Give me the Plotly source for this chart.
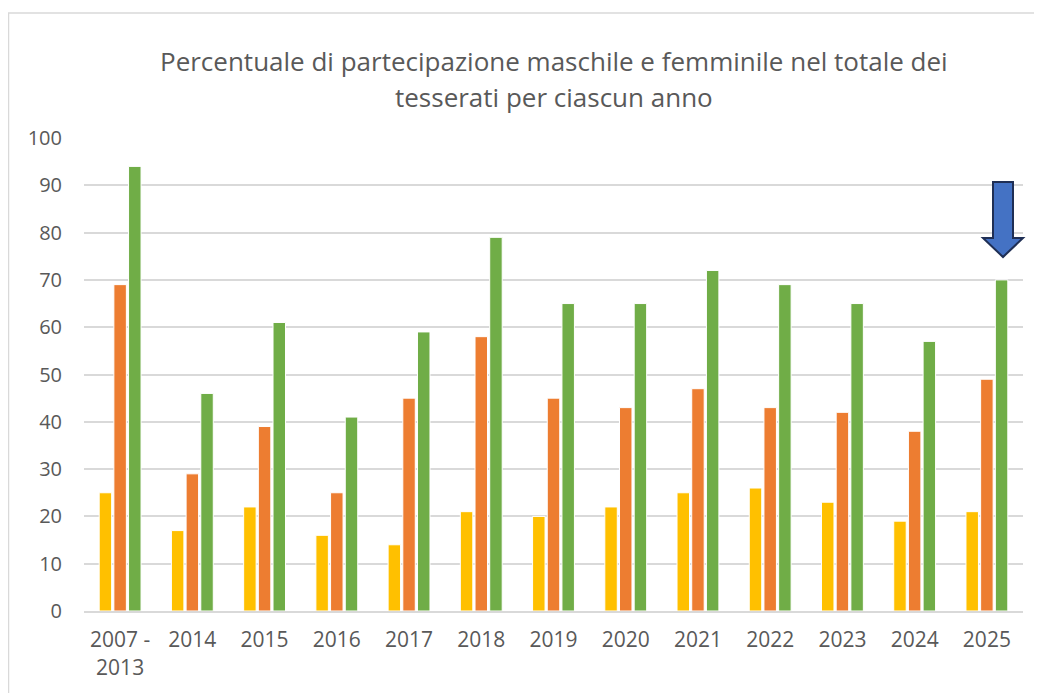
import plotly.graph_objects as go

categories = ["2007 -<br>2013", "2014", "2015", "2016", "2017", "2018", "2019",
              "2020", "2021", "2022", "2023", "2024", "2025"]
series_yellow = [25, 17, 22, 16, 14, 21, 20, 22, 25, 26, 23, 19, 21]
series_orange = [69, 29, 39, 25, 45, 58, 45, 43, 47, 43, 42, 38, 49]
series_green = [94, 46, 61, 41, 59, 79, 65, 65, 72, 69, 65, 57, 70]
y_ticks = [0, 10, 20, 30, 40, 50, 60, 70, 80, 90, 100]

OFF = 8  # page body margin
W, H = 1042 - OFF, 693 - OFF
L, T = 84 - OFF, 138 - OFF
R = W - (1023 - OFF)
B = H - (611 - OFF)
pw, ph = W - L - R, H - T - B
FONT = "Open Sans"
GRAY = "#595959"

def px_x(p):  # reference-screenshot pixel -> paper
    return (p - OFF - L) / pw

def px_y(p):
    return (H - B - (p - OFF)) / ph

fig = go.Figure()
for name, vals, col in [("Femmine", series_yellow, "#FFC000"),
                        ("Maschi", series_orange, "#ED7D31"),
                        ("Totale", series_green, "#70AD47")]:
    fig.add_trace(go.Bar(x=categories, y=vals, name=name,
                         marker=dict(color=col, line=dict(color="white", width=1))))

# chart border (left & top visible)
fig.add_shape(type="rect", xref="paper", yref="paper",
              x0=px_x(8.5), x1=px_x(1080), y0=px_y(740), y1=px_y(13),
              line=dict(color="#D9D9D9", width=1.5), layer="below")

# block arrow over the last group
ax = [993, 1013, 1013, 1023, 1003, 983, 993]
ay = [182, 182, 238, 238, 257, 238, 238]
path = "M " + " L ".join(f"{px_x(a)},{px_y(b) * 100}" for a, b in zip(ax, ay)) + " Z"
fig.add_shape(type="path", xref="paper", yref="y", path=path,
              fillcolor="#4472C4", line=dict(color="#1F2F55", width=2))

fig.add_annotation(text="Percentuale di partecipazione maschile e femminile nel totale dei",
                   xref="paper", yref="paper", x=0.5, y=px_y(61), showarrow=False,
                   xanchor="center", yanchor="middle", font=dict(family=FONT, size=26, color=GRAY))
fig.add_annotation(text="tesserati per ciascun anno",
                   xref="paper", yref="paper", x=0.5, y=px_y(97), showarrow=False,
                   xanchor="center", yanchor="middle", font=dict(family=FONT, size=26, color=GRAY))

fig.update_layout(
    width=W, height=H,
    margin=dict(l=L, r=R, t=T, b=B, autoexpand=False),
    paper_bgcolor="white", plot_bgcolor="white",
    barmode="group", bargap=0.39, bargroupgap=0.15,
    showlegend=False,
    font=dict(family=FONT, size=20, color=GRAY),
)
fig.update_xaxes(showgrid=False, showline=True, linecolor="#D9D9D9", linewidth=2,
                 ticks="", ticklabelstandoff=9, tickfont=dict(size=21, color=GRAY))
fig.update_yaxes(range=[0, 100], tickvals=y_ticks, showgrid=True, gridcolor="#D9D9D9",
                 gridwidth=1.5, zeroline=False, showline=False, ticks="",
                 ticklabelstandoff=21, tickfont=dict(size=20, color=GRAY))

fig.write_html("out.html")
